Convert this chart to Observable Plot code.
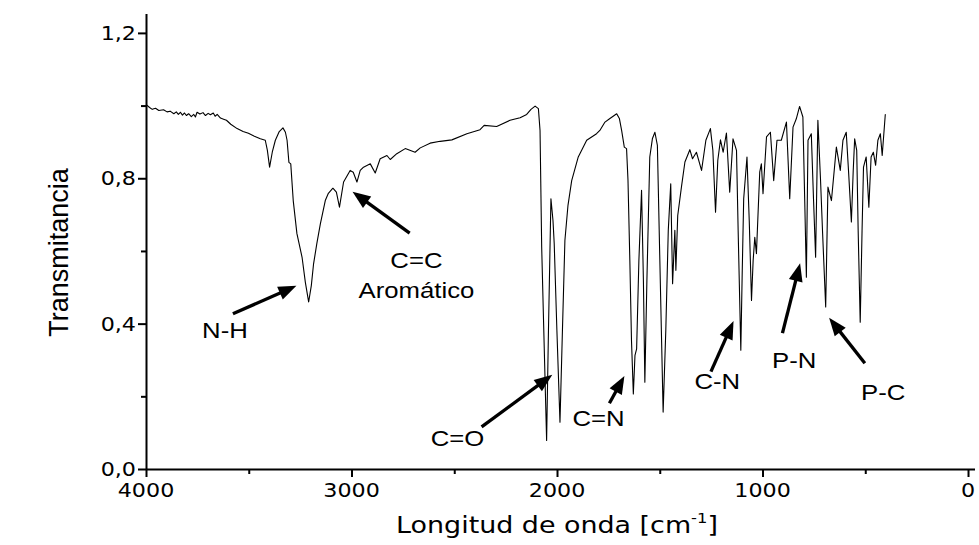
<!DOCTYPE html>
<html><head><meta charset="utf-8">
<script src="https://cdn.jsdelivr.net/npm/d3@7"></script>
<script src="https://cdn.jsdelivr.net/npm/@observablehq/plot@0.6"></script>
<style>
html,body{margin:0;padding:0;background:#fff;}
#chart svg{display:block;}
</style>
</head><body><div id="chart"></div>
<script>
// FTIR spectrum
const wavenumber = [3997,3985,3972,3956,3940,3917,3900,3885,3867,3855,3845,3835,3825,3815,3806,3795,3782,3770,3762,3754,3740,3725,3713,3700,3689,3675,3666,3656,3640,3625,3611,3590,3559,3530,3504,3475,3446,3422,3412,3401,3388,3373,3354,3336,3324,3316,3307,3298,3286,3268,3243,3227,3211,3198,3187,3171,3154,3130,3115,3093,3076,3061,3041,3009,2994,2976,2960,2944,2911,2887,2863,2830,2814,2782,2741,2693,2668,2620,2571,2514,2441,2377,2357,2296,2231,2182,2150,2129,2109,2093,2085,2077,2068,2053,2044,2032,2022,2016,2003,1988,1976,1964,1949,1931,1899,1858,1810,1794,1769,1745,1712,1699,1688,1675,1664,1657,1648,1640,1631,1623,1615,1604,1591,1582,1575,1565,1551,1538,1526,1514,1502,1486,1473,1461,1449,1440,1429,1424,1415,1397,1380,1356,1343,1324,1299,1278,1256,1244,1231,1220,1207,1194,1178,1162,1146,1129,1121,1108,1101,1094,1078,1067,1056,1048,1040,1032,1016,1008,1000,983,964,948,932,911,886,870,854,838,822,806,797,789,781,765,754,744,733,720,710,695,684,667,643,624,611,595,584,570,561,554,544,537,527,518,511,498,485,474,463,452,441,429,420,405];
const transmittance = [1.002,0.996,0.991,0.994,0.988,0.990,0.984,0.986,0.979,0.984,0.977,0.983,0.975,0.981,0.974,0.979,0.971,0.977,0.970,0.983,0.978,0.982,0.974,0.980,0.976,0.981,0.972,0.977,0.967,0.964,0.961,0.950,0.938,0.930,0.925,0.917,0.910,0.906,0.879,0.832,0.873,0.906,0.930,0.940,0.928,0.906,0.845,0.841,0.740,0.649,0.584,0.515,0.461,0.506,0.566,0.622,0.676,0.740,0.760,0.774,0.763,0.722,0.791,0.823,0.818,0.791,0.823,0.832,0.841,0.816,0.855,0.864,0.853,0.869,0.883,0.873,0.885,0.898,0.903,0.907,0.924,0.935,0.947,0.944,0.961,0.968,0.977,0.991,1.000,0.993,0.933,0.612,0.410,0.080,0.383,0.745,0.685,0.621,0.383,0.130,0.383,0.630,0.727,0.795,0.860,0.906,0.924,0.933,0.956,0.966,0.979,0.966,0.933,0.887,0.883,0.795,0.575,0.355,0.208,0.314,0.332,0.575,0.768,0.520,0.240,0.520,0.860,0.911,0.928,0.892,0.575,0.158,0.383,0.658,0.786,0.511,0.658,0.548,0.699,0.777,0.846,0.880,0.855,0.873,0.823,0.906,0.938,0.878,0.708,0.851,0.907,0.873,0.926,0.763,0.910,0.878,0.658,0.328,0.548,0.745,0.860,0.685,0.465,0.575,0.639,0.594,0.818,0.841,0.759,0.915,0.928,0.795,0.906,0.906,0.956,0.745,0.942,0.965,0.999,0.970,0.740,0.529,0.906,0.924,0.740,0.584,0.961,0.795,0.650,0.447,0.777,0.740,0.887,0.823,0.906,0.928,0.823,0.681,0.823,0.910,0.878,0.658,0.405,0.658,0.832,0.860,0.722,0.860,0.873,0.837,0.906,0.924,0.864,0.977];

// axis ticks and labels
const xTicks = [4000, 3000, 2000, 1000, 0];
const xTickLabels = ["4000", "3000", "2000", "1000", "0"];
const xMinorTicks = [3500, 2500, 1500, 500];
const yTicks = [0, 0.4, 0.8, 1.2];
const yTickLabels = ["0,0", "0,4", "0,8", "1,2"];
const yMinorTicks = [0.2, 0.6, 1.0];
const xTitle = "Longitud de onda [cm";
const xTitleSup = "-1";
const yTitle = "Transmitancia";

// band annotations (data units)
const annotationText = ["N-H", "C=C", "Aromático", "C=O", "C=N", "C-N", "P-N", "P-C"];
const annotationX = [3616, 2684, 2684, 2484, 1798, 1220, 846, 413];
const annotationY = [0.383, 0.575, 0.493, 0.085, 0.140, 0.242, 0.300, 0.212];
const arrowTailX = [3577, 2717, 2367, 1745, 1251, 903, 502];
const arrowTailY = [0.427, 0.649, 0.116, 0.181, 0.268, 0.374, 0.291];
const arrowTipX  = [3268, 2995, 2023, 1672, 1141, 817, 676];
const arrowTipY  = [0.504, 0.763, 0.259, 0.256, 0.407, 0.566, 0.416];

const spectrum = wavenumber.map((w, i) => ({w, t: transmittance[i]}));
const arrows = arrowTipX.map((_, i) => ({x1: arrowTailX[i], y1: arrowTailY[i], x2: arrowTipX[i], y2: arrowTipY[i]}));

const ARIAL = "'Liberation Sans', Arial, Helvetica, sans-serif";
const VERDANA = "'DejaVu Sans', Verdana, sans-serif";
const NARROW = "'Liberation Sans Narrow', 'Arial Narrow', 'Liberation Sans', sans-serif";
const K = 1.17; // horizontal stretch of the reference's lettering

function stretchedText(g, x, y, str, size, family, anchor) {
  const t = g.append("text")
    .attr("transform", `translate(${x},${y}) scale(${K},1)`)
    .attr("text-anchor", anchor || "middle")
    .attr("font-family", family)
    .attr("font-size", size)
    .attr("fill", "#000");
  if (str != null) t.text(str);
  return t;
}

function decor() {
  const args = Array.from(arguments);
  const s = args.find(a => a && typeof a.x === "function" && typeof a.y === "function");
  const dim = args.find(a => a && typeof a.width === "number" && typeof a.marginLeft === "number");
  const g = d3.create("svg:g");
  // arrows with filled heads
  arrows.forEach(a => {
    const x1 = s.x(a.x1), y1 = s.y(a.y1), x2 = s.x(a.x2), y2 = s.y(a.y2);
    const ang = Math.atan2(y2 - y1, x2 - x1);
    const L = 18, W = 7;
    const bx = x2 - L * Math.cos(ang), by = y2 - L * Math.sin(ang);
    const px = -Math.sin(ang), py = Math.cos(ang);
    g.append("line").attr("x1", x1).attr("y1", y1).attr("x2", bx + 2 * Math.cos(ang)).attr("y2", by + 2 * Math.sin(ang))
      .attr("stroke", "#000").attr("stroke-width", 3.3);
    g.append("path").attr("d", `M${x2},${y2}L${bx + W * px},${by + W * py}L${bx - W * px},${by - W * py}Z`)
      .attr("fill", "#000");
  });
  // annotation labels
  annotationText.forEach((str, i) => {
    stretchedText(g, s.x(annotationX[i]), s.y(annotationY[i]) + 8, str, 22, ARIAL);
  });
  // tick labels
  const y0 = s.y(0);
  xTicks.forEach((v, i) => stretchedText(g, s.x(v), y0 + 28, xTickLabels[i], 19, VERDANA));
  const x0 = s.x(4000);
  yTicks.forEach((v, i) => stretchedText(g, x0 - 10, s.y(v) + 7, yTickLabels[i], 19, VERDANA, "end"));
  // axis titles
  const cy = (dim.marginTop + dim.height - dim.marginBottom) / 2;
  g.append("text")
    .attr("transform", `translate(${x0 - 78},${cy + 11}) rotate(-90)`)
    .attr("text-anchor", "middle")
    .attr("font-family", NARROW)
    .attr("font-size", 27)
    .attr("fill", "#000")
    .text(yTitle);
  const tx = stretchedText(g, s.x(2000), dim.height - 12, null, 23, VERDANA);
  tx.append("tspan").text(xTitle);
  tx.append("tspan").attr("font-size", 14).attr("dy", -10).text(xTitleSup);
  tx.append("tspan").attr("dy", 10).text("]");
  return g.node();
}

const chart = Plot.plot({
  width: 979,
  height: 545,
  marginLeft: 146,
  marginRight: 4,
  marginTop: 14,
  marginBottom: 76,
  style: {fontFamily: ARIAL, fontSize: "16px", color: "#000", background: "#fff"},
  x: {domain: [4000, -34], label: null},
  y: {domain: [0, 1.252], label: null},
  marks: [
    Plot.axisX({ticks: xTicks, tickSize: 8, strokeWidth: 2, tickFormat: () => "", label: null}),
    Plot.axisX({ticks: xMinorTicks, tickSize: 5, strokeWidth: 2, tickFormat: () => "", label: null}),
    Plot.axisY({ticks: yTicks, tickSize: 8, strokeWidth: 2, tickFormat: () => "", label: null}),
    Plot.axisY({ticks: yMinorTicks, tickSize: 5, strokeWidth: 2, tickFormat: () => "", label: null}),
    Plot.ruleY([0], {stroke: "#000", strokeWidth: 2}),
    Plot.ruleX([4000], {stroke: "#000", strokeWidth: 2}),
    Plot.line(spectrum, {x: "w", y: "t", stroke: "#000", strokeWidth: 1.1}),
    decor
  ]
});
document.getElementById("chart").appendChild(chart);
</script>
</body></html>
